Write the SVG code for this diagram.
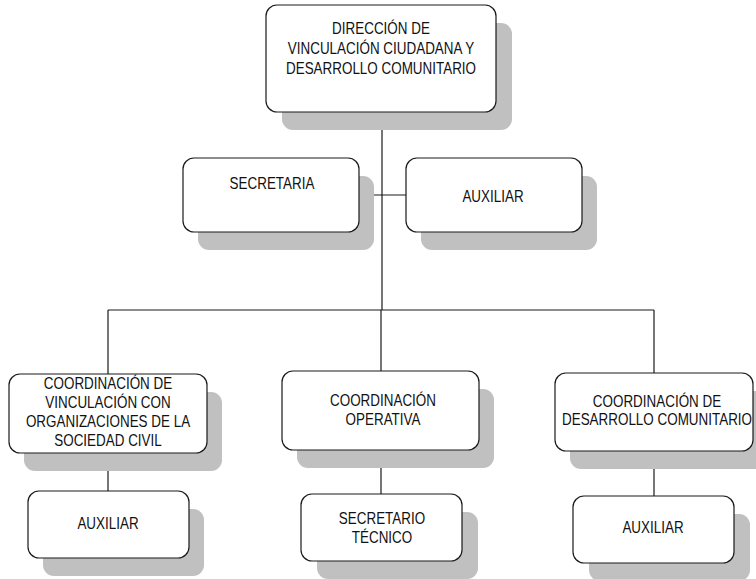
<svg xmlns="http://www.w3.org/2000/svg" width="756" height="579" viewBox="0 0 756 579">
  <style>
    .shadow { fill: #c0c0c0; stroke: none; }
    .box { fill: #ffffff; stroke: #1a1a1a; stroke-width: 1.2; }
    .lbl { font-family: "Liberation Sans", Arial, sans-serif; font-size: 16px; fill: #111111; text-anchor: middle; }
    .conn { stroke: #1a1a1a; stroke-width: 1.2; fill: none; }
  </style>
  <rect width="756" height="579" fill="#ffffff"/>

  <!-- connectors -->
  <g id="connectors">
    <line class="conn" x1="382" y1="112" x2="382" y2="310"/>
    <line class="conn" x1="359" y1="195" x2="406" y2="195"/>
    <line class="conn" x1="108" y1="310" x2="654" y2="310"/>
    <line class="conn" x1="108" y1="310" x2="108" y2="374"/>
    <line class="conn" x1="381" y1="310" x2="381" y2="371"/>
    <line class="conn" x1="654" y1="310" x2="654" y2="373"/>
    <line class="conn" x1="108" y1="453" x2="108" y2="491"/>
    <line class="conn" x1="381" y1="450" x2="381" y2="494"/>
    <line class="conn" x1="654" y1="451" x2="654" y2="496"/>
  </g>

  <!-- head office -->
  <g id="direccion">
    <rect class="shadow" x="282" y="23" width="230" height="107" rx="11"/>
    <rect class="box" x="266" y="5" width="230" height="107" rx="11"/>
    <text class="lbl" transform="translate(381,34) scale(0.84,1)">DIRECCIÓN DE</text>
    <text class="lbl" transform="translate(381,54) scale(0.84,1)">VINCULACIÓN CIUDADANA Y</text>
    <text class="lbl" transform="translate(381,74) scale(0.84,1)">DESARROLLO COMUNITARIO</text>
  </g>

  <g id="secretaria">
    <rect class="shadow" x="198" y="176" width="176" height="74" rx="11"/>
    <rect class="box" x="183" y="158" width="176" height="74" rx="11"/>
    <text class="lbl" transform="translate(272,189) scale(0.84,1)">SECRETARIA</text>
  </g>

  <g id="auxiliar-direccion">
    <rect class="shadow" x="421" y="176" width="176" height="74" rx="11"/>
    <rect class="box" x="406" y="158" width="176" height="74" rx="11"/>
    <text class="lbl" transform="translate(493,202) scale(0.84,1)">AUXILIAR</text>
  </g>

  <!-- coordinations -->
  <g id="coord-vinculacion">
    <rect class="shadow" x="24" y="392" width="198" height="79" rx="11"/>
    <rect class="box" x="9" y="374" width="198" height="79" rx="11"/>
    <text class="lbl" transform="translate(108,389) scale(0.84,1)">COORDINACIÓN DE</text>
    <text class="lbl" transform="translate(108,408) scale(0.84,1)">VINCULACIÓN CON</text>
    <text class="lbl" transform="translate(108,427) scale(0.84,1)">ORGANIZACIONES DE LA</text>
    <text class="lbl" transform="translate(108,446) scale(0.84,1)">SOCIEDAD CIVIL</text>
  </g>

  <g id="coord-operativa">
    <rect class="shadow" x="297" y="389" width="197" height="79" rx="11"/>
    <rect class="box" x="282" y="371" width="197" height="79" rx="11"/>
    <text class="lbl" transform="translate(383,406) scale(0.84,1)">COORDINACIÓN</text>
    <text class="lbl" transform="translate(383,425) scale(0.84,1)">OPERATIVA</text>
  </g>

  <g id="coord-desarrollo">
    <rect class="shadow" x="570" y="391" width="198" height="78" rx="11"/>
    <rect class="box" x="555" y="373" width="198" height="78" rx="11"/>
    <text class="lbl" transform="translate(657,407) scale(0.84,1)">COORDINACIÓN DE</text>
    <text class="lbl" transform="translate(657,425) scale(0.84,1)">DESARROLLO COMUNITARIO</text>
  </g>

  <!-- support staff -->
  <g id="auxiliar-vinculacion">
    <rect class="shadow" x="43" y="509" width="161" height="67" rx="11"/>
    <rect class="box" x="28" y="491" width="161" height="67" rx="11"/>
    <text class="lbl" transform="translate(108,529) scale(0.84,1)">AUXILIAR</text>
  </g>

  <g id="secretario-tecnico">
    <rect class="shadow" x="317" y="512" width="161" height="67" rx="11"/>
    <rect class="box" x="301" y="494" width="161" height="67" rx="11"/>
    <text class="lbl" transform="translate(382,524) scale(0.84,1)">SECRETARIO</text>
    <text class="lbl" transform="translate(382,543) scale(0.84,1)">TÉCNICO</text>
  </g>

  <g id="auxiliar-desarrollo">
    <rect class="shadow" x="589" y="514" width="161" height="67" rx="11"/>
    <rect class="box" x="573" y="496" width="161" height="67" rx="11"/>
    <text class="lbl" transform="translate(653,533) scale(0.84,1)">AUXILIAR</text>
  </g>
</svg>
